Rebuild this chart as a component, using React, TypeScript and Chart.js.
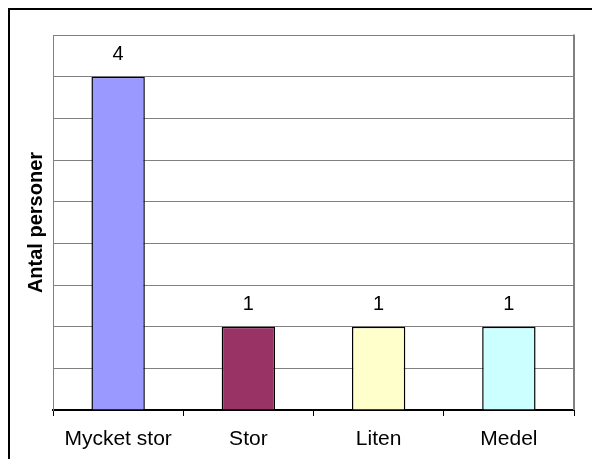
import { useEffect, useRef } from "react";
import { Chart, registerables } from "chart.js";

Chart.register(...registerables);

// Survey answers: number of people per size category
const categories = ["Mycket stor", "Stor", "Liten", "Medel"];
const antalPersoner = [4, 1, 1, 1];
const barColors = ["#9999FF", "#993366", "#FFFFCC", "#CCFFFF"];
const yMax = 4.5;
const yStep = 0.5;
const yTitle = "Antal personer";

const W = 592;
const H = 459;
const FONT = "'Liberation Sans', Arial, Helvetica, sans-serif";

export default function App() {
  const ref = useRef<HTMLCanvasElement>(null);

  useEffect(() => {
    if (!ref.current) return;

    // white page with the black outer frame
    const framePlugin = {
      id: "frame",
      beforeDraw(chart: any) {
        const ctx = chart.ctx;
        ctx.save();
        ctx.fillStyle = "#ffffff";
        ctx.fillRect(0, 0, chart.width, chart.height);
        ctx.strokeStyle = "#000000";
        ctx.lineWidth = 2;
        ctx.strokeRect(9, 9, chart.width + 20, chart.height + 20);
        ctx.restore();
      },
    };

    // right edge of the plot area
    const plotEdgePlugin = {
      id: "plotEdge",
      afterDraw(chart: any) {
        const { ctx, chartArea } = chart;
        ctx.save();
        ctx.strokeStyle = "#808080";
        ctx.lineWidth = 2;
        ctx.beginPath();
        ctx.moveTo(chartArea.right, chartArea.top - 0.5);
        ctx.lineTo(chartArea.right, chartArea.bottom);
        ctx.stroke();
        ctx.restore();
      },
    };

    // value above each bar
    const valueLabelPlugin = {
      id: "valueLabels",
      afterDatasetsDraw(chart: any) {
        const ctx = chart.ctx;
        const meta = chart.getDatasetMeta(0);
        const data = chart.data.datasets[0].data as number[];
        ctx.save();
        ctx.font = `20px ${FONT}`;
        ctx.fillStyle = "#000000";
        ctx.textAlign = "center";
        ctx.textBaseline = "middle";
        meta.data.forEach((bar: any, i: number) => {
          ctx.fillText(String(data[i]), bar.x, bar.y - 22);
        });
        ctx.restore();
      },
    };

    const chart = new Chart(ref.current, {
      type: "bar",
      data: {
        labels: categories,
        datasets: [
          {
            data: antalPersoner,
            backgroundColor: barColors,
            borderColor: "#000000",
            borderWidth: 1.5,
            barPercentage: 0.41,
            categoryPercentage: 1,
          },
        ],
      },
      options: {
        responsive: false,
        animation: false,
        devicePixelRatio: 1,
        layout: { padding: { top: 35, right: 18, left: 0, bottom: 0 } },
        plugins: {
          legend: { display: false },
          tooltip: { enabled: false },
        },
        scales: {
          x: {
            grid: {
              display: true,
              drawOnChartArea: false,
              drawTicks: true,
              tickLength: 6,
              offset: true,
              color: "#000000",
              lineWidth: 1,
            },
            border: { display: true, color: "#000000", width: 2 },
            ticks: {
              color: "#000000",
              font: { family: FONT, size: 21 },
              padding: 11,
              maxRotation: 0,
              autoSkip: false,
            },
            afterFit(scale: any) {
              scale.height = 49;
            },
          },
          y: {
            min: 0,
            max: yMax,
            ticks: { display: false, stepSize: yStep },
            grid: {
              color: "#808080",
              lineWidth: 1,
              drawTicks: false,
              tickLength: 0,
            },
            border: { display: true, color: "#808080", width: 1 },
            title: {
              display: true,
              text: yTitle,
              color: "#000000",
              font: { family: FONT, size: 20, weight: "bold" },
              padding: { top: 24, bottom: 0 },
            },
            afterFit(scale: any) {
              scale.width = 53;
            },
          },
        },
      },
      plugins: [framePlugin, valueLabelPlugin, plotEdgePlugin],
    });

    return () => chart.destroy();
  }, []);

  return (
    <div style={{ position: "fixed", left: 0, top: 0, width: W, height: H, overflow: "hidden", background: "#fff" }}>
      <canvas ref={ref} width={W} height={H} style={{ width: W, height: H, display: "block" }} />
    </div>
  );
}
